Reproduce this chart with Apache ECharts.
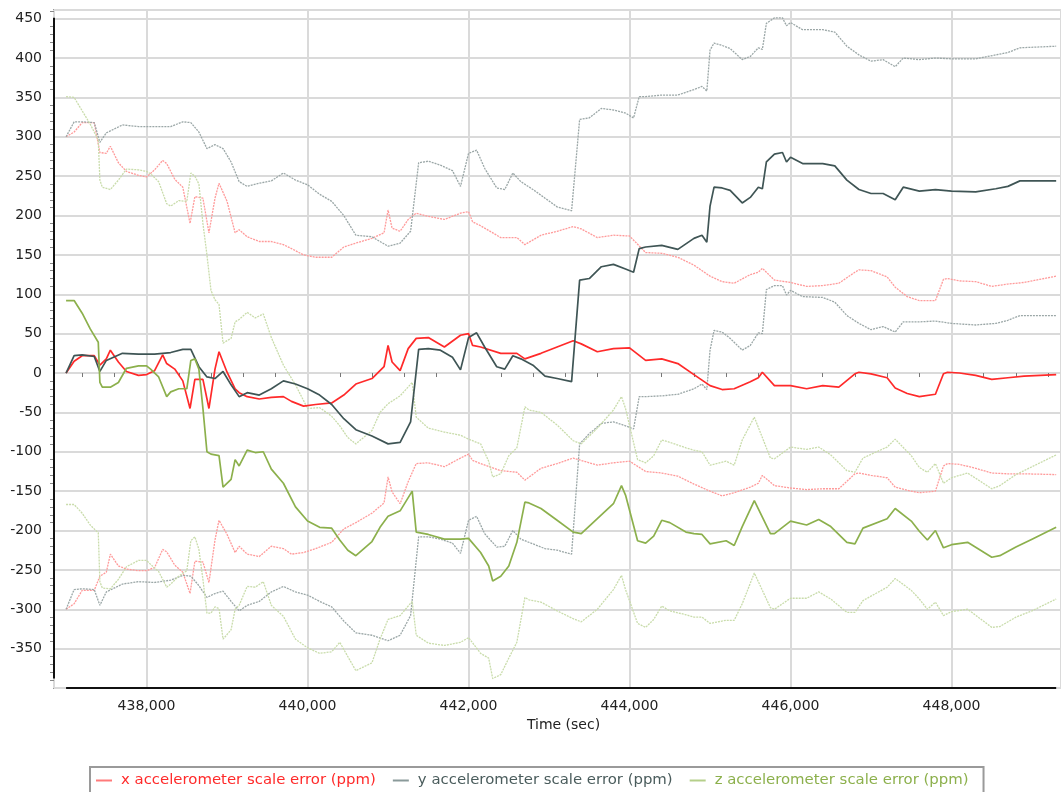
<!DOCTYPE html>
<html>
<head>
<meta charset="utf-8">
<title>Accelerometer scale error</title>
<script src="https://cdn.jsdelivr.net/npm/echarts@6/dist/echarts.min.js"></script>
<style>
  html, body { margin: 0; padding: 0; background: #fff; }
  #chart { width: 1061px; height: 792px; }
</style>
</head>
<body>
<div id="chart"></div>
<script>
// ---- x accelerometer: time (sec), estimate and the two bound curves (ppm)
const tX = [437000,437100,437200,437350,437420,437500,437550,437650,437750,437900,
  438000,438100,438200,438250,438350,438450,438540,438600,438700,438775,
  438850,438900,439000,439100,439150,439250,439400,439550,439700,439800,
  439950,440100,440300,440450,440600,440800,440950,441000,441050,441150,
  441250,441350,441500,441700,441900,442000,442050,442150,442400,442600,
  442700,442900,443100,443300,443400,443600,443800,444000,444200,444400,
  444600,444800,445000,445150,445300,445500,445600,445650,445800,446000,
  446200,446400,446600,446800,446850,447000,447200,447300,447450,447600,
  447800,447900,447950,448100,448300,448500,448700,448900,449300];
const xMain = [0,15,22,22,10,18,29,14,2,-3,
  -2,3,23,12,5,-10,-45,-8,-8,-45,
  5,27,1,-20,-25,-30,-33,-31,-30,-36,
  -42,-40,-38,-28,-14,-7,8,35,14,3,
  31,44,45,33,48,50,35,33,25,25,
  18,25,33,41,37,27,31,32,16,18,
  12,-2,-16,-21,-20,-11,-6,1,-16,-16,
  -20,-16,-18,-1,1,-1,-6,-19,-26,-30,
  -27,-1,1,0,-3,-8,-6,-4,-2];
const xUp = [300,306,318,318,280,279,288,267,256,251,
  249,258,270,266,246,236,190,224,222,178,
  222,241,218,178,182,173,167,167,163,158,
  150,147,147,160,165,171,178,207,184,180,
  195,203,199,195,203,205,192,187,172,172,
  163,175,180,186,183,172,175,174,153,152,
  147,137,123,116,114,125,128,133,118,115,
  110,111,114,128,131,130,122,109,97,92,
  92,119,120,117,116,110,113,115,123];
const xLow = [-300,-293,-276,-276,-258,-253,-230,-245,-249,-251,
  -251,-247,-224,-227,-244,-253,-280,-239,-240,-266,
  -212,-187,-205,-228,-220,-230,-233,-220,-223,-230,
  -228,-223,-215,-198,-190,-178,-165,-132,-151,-166,
  -138,-115,-114,-119,-108,-103,-111,-115,-124,-126,
  -136,-121,-115,-108,-111,-117,-114,-112,-125,-127,
  -131,-141,-150,-156,-152,-145,-140,-130,-143,-146,
  -148,-147,-147,-128,-127,-130,-133,-145,-149,-152,
  -150,-118,-115,-116,-121,-127,-128,-128,-129];

// ---- y accelerometer
const tY = [437000,437100,437200,437350,437420,437500,437700,437900,438100,438300,
  438450,438550,438650,438750,438850,438950,439050,439150,439250,439400,
  439550,439700,439850,440000,440150,440300,440450,440600,440800,441000,
  441150,441280,441380,441500,441650,441800,441900,442000,442100,442200,
  442350,442450,442550,442650,442800,442950,443100,443280,443380,443500,
  443650,443800,443950,444050,444120,444200,444400,444600,444800,444900,
  444960,445000,445050,445150,445250,445400,445500,445600,445650,445700,
  445800,445900,445950,446000,446150,446400,446550,446700,446850,447000,
  447150,447300,447400,447600,447800,448000,448300,448550,448700,448850,
  449300];
const yMain = [0,22,23,21,2,16,25,24,24,26,
  30,30,8,-5,-7,2,-15,-30,-25,-28,
  -20,-10,-14,-20,-28,-40,-58,-72,-80,-90,
  -88,-62,30,31,29,20,4,45,51,33,
  8,5,22,18,10,-4,-7,-11,118,120,
  135,138,132,128,158,160,162,157,171,175,
  166,212,236,235,232,216,223,236,234,268,
  278,280,268,274,266,266,263,245,233,228,
  228,220,236,231,233,231,230,234,237,244,
  244];
const yUp = [300,319,319,318,293,305,315,313,313,313,
  319,318,306,285,290,285,268,243,237,241,
  244,254,245,239,227,218,200,175,173,161,
  165,180,267,269,264,257,237,279,283,260,
  235,233,254,243,233,222,211,206,322,324,
  336,334,330,324,351,351,353,353,360,364,
  358,410,419,416,412,398,402,413,411,444,
  451,451,441,445,436,436,433,415,404,396,
  398,389,400,398,400,399,399,404,407,413,
  415];
const yLow = [-300,-275,-274,-275,-295,-278,-268,-265,-266,-263,
  -257,-258,-270,-285,-280,-277,-290,-302,-295,-290,
  -278,-271,-278,-282,-290,-297,-315,-330,-333,-340,
  -333,-308,-208,-208,-211,-216,-229,-187,-182,-204,
  -221,-220,-200,-211,-217,-223,-225,-230,-90,-77,
  -64,-62,-67,-71,-30,-30,-29,-27,-20,-14,
  -21,29,54,52,44,29,35,51,50,106,
  111,111,99,105,97,96,90,73,63,55,
  59,52,65,65,66,63,61,63,67,73,
  73];

// ---- z accelerometer
const tZ = [437000,437100,437200,437300,437400,437420,437450,437550,437650,437750,
  437900,438000,438050,438150,438250,438300,438400,438500,438550,438600,
  438650,438700,438750,438800,438850,438900,438950,439050,439100,439150,
  439250,439350,439450,439550,439700,439850,440000,440150,440300,440400,
  440500,440600,440800,440900,441000,441150,441300,441350,441500,441700,
  441900,442000,442150,442250,442300,442400,442500,442600,442700,442750,
  442900,443100,443300,443400,443600,443800,443900,443950,444100,444200,
  444300,444400,444500,444700,444800,444900,445000,445200,445300,445400,
  445550,445750,445800,446000,446200,446350,446500,446700,446800,446900,
  447200,447300,447500,447600,447700,447800,447900,448000,448200,448500,
  448600,448800,449000,449300];
const zMain = [92,92,76,56,39,-12,-18,-18,-12,6,
  9,9,5,-5,-30,-24,-20,-20,16,18,
  5,-45,-100,-103,-104,-105,-145,-135,-110,-118,
  -98,-101,-100,-122,-140,-170,-188,-196,-197,-212,
  -225,-232,-214,-196,-182,-175,-150,-202,-205,-211,
  -211,-210,-228,-245,-264,-258,-245,-215,-164,-165,
  -172,-187,-202,-204,-185,-166,-143,-155,-213,-216,
  -207,-187,-190,-202,-204,-205,-217,-213,-219,-195,
  -162,-204,-204,-188,-193,-186,-195,-215,-217,-197,
  -185,-172,-188,-201,-212,-200,-222,-218,-215,-234,
  -232,-221,-211,-196];
const zUp = [351,350,333,316,296,245,236,233,245,259,
  258,256,253,243,215,212,219,218,254,250,
  240,190,150,105,93,87,38,44,65,68,
  77,70,75,45,10,-15,-45,-44,-55,-67,
  -82,-90,-73,-50,-39,-29,-12,-56,-70,-75,
  -79,-84,-90,-112,-132,-128,-105,-95,-43,-47,
  -50,-66,-86,-90,-70,-47,-30,-45,-110,-114,
  -105,-85,-88,-95,-98,-100,-117,-112,-117,-85,
  -56,-108,-109,-94,-97,-94,-104,-124,-126,-108,
  -94,-84,-105,-120,-126,-115,-140,-133,-127,-147,
  -143,-129,-119,-104];
const zLow = [-167,-167,-178,-193,-203,-265,-273,-274,-262,-246,
  -238,-238,-243,-252,-272,-268,-258,-251,-213,-208,
  -224,-262,-305,-305,-297,-299,-338,-326,-300,-295,
  -271,-272,-265,-295,-309,-338,-349,-356,-354,-342,
  -360,-378,-368,-338,-313,-308,-290,-333,-343,-346,
  -342,-336,-356,-362,-388,-383,-362,-342,-285,-288,
  -291,-302,-312,-316,-300,-275,-257,-275,-318,-323,
  -313,-296,-302,-307,-310,-310,-318,-314,-314,-293,
  -254,-298,-300,-286,-286,-278,-287,-304,-304,-289,
  -272,-261,-276,-287,-300,-291,-308,-303,-300,-323,
  -322,-310,-302,-287];

const seriesNames = [
  'x accelerometer scale error (ppm)',
  'y accelerometer scale error (ppm)',
  'z accelerometer scale error (ppm)'
];
const axisTitle = 'Time (sec)';

// ---- look
const FONT = '"DejaVu Sans", Verdana, sans-serif';
const X_COLOR = '#ff2a2a', X_BAND = '#ff9a9a';
const Y_COLOR = '#3f5555', Y_BAND = '#9ba7a7';
const Z_COLOR = '#8cb04c', Z_BAND = '#c9dcab';
const X_MIN = 436850, X_MAX = 449360;
const Y_MIN = -400, Y_MAX = 461;

function pairs(t, v) { return t.map((x, i) => [x, v[i]]); }
function thousands(v) { return String(Math.round(v)).replace(/\B(?=(\d{3})+(?!\d))/g, ','); }

// the dark axis spines only span the recorded data
const allT = tX.concat(tY, tZ);
const allV = [].concat(xMain, xUp, xLow, yMain, yUp, yLow, zMain, zUp, zLow);
const tFirst = Math.min.apply(null, allT), tLast = Math.max.apply(null, allT);
const vLowest = Math.min.apply(null, allV), vHighest = Math.max.apply(null, allV);

function band(name, t, v, color) {
  return {
    name: name, type: 'line', data: pairs(t, v), showSymbol: false, symbol: 'none',
    silent: true, z: 2,
    lineStyle: { color: color, width: 1.3, type: [2, 1] },
    itemStyle: { color: color }
  };
}
function estimate(name, t, v, color) {
  return {
    name: name, type: 'line', data: pairs(t, v), showSymbol: false, symbol: 'none',
    silent: true, z: 3,
    lineStyle: { color: color, width: 1.7 },
    itemStyle: { color: color }
  };
}

const xSeries = estimate(seriesNames[0], tX, xMain, X_COLOR);
xSeries.clip = false;
xSeries.markLine = {
  silent: true, symbol: ['none', 'none'], label: { show: false },
  emphasis: { disabled: true },
  lineStyle: { color: '#111', width: 2, type: 'solid' },
  data: [
    [{ coord: [tFirst, Y_MIN] }, { coord: [tLast, Y_MIN] }],
    [{ coord: [X_MIN, vLowest] }, { coord: [X_MIN, vHighest] }]
  ]
};

const chart = echarts.init(document.getElementById('chart'), null, { renderer: 'canvas' });
chart.setOption({
  animation: false,
  backgroundColor: '#ffffff',
  textStyle: { fontFamily: FONT },
  grid: {
    left: 54, right: 0, top: 10, bottom: 104,
    show: true, borderColor: '#9a9a9a', borderWidth: 2, backgroundColor: '#ffffff'
  },
  xAxis: {
    type: 'value', min: X_MIN, max: X_MAX, splitNumber: 6,
    name: axisTitle, nameLocation: 'middle', nameGap: 30,
    nameTextStyle: { fontFamily: FONT, fontSize: 14, color: '#222', padding: [0, 0, 0, 12] },
    axisLine: { show: false },
    axisTick: { show: false },
    minorTick: { show: true, splitNumber: 5, length: 4, lineStyle: { color: '#777', width: 1 } },
    axisLabel: {
      margin: 11, fontFamily: FONT, fontSize: 14, color: '#222',
      showMinLabel: false, showMaxLabel: false, formatter: thousands
    },
    splitLine: { show: true, lineStyle: { color: '#dadada', width: 2 } }
  },
  yAxis: {
    type: 'value', min: Y_MIN, max: Y_MAX, interval: 50,
    axisLine: { show: false },
    axisTick: { show: false },
    minorTick: { show: true, splitNumber: 5, length: 4, lineStyle: { color: '#888', width: 1 } },
    axisLabel: {
      margin: 12, fontFamily: FONT, fontSize: 14, color: '#222',
      showMinLabel: false, showMaxLabel: false
    },
    splitLine: { show: true, lineStyle: { color: '#dadada', width: 2 } }
  },
  legend: {
    left: 90, top: 767, orient: 'horizontal',
    selectedMode: false,
    icon: 'rect', itemWidth: 16, itemHeight: 2, itemGap: 17,
    padding: [6, 15, 10, 6],
    borderColor: '#9a9a9a', borderWidth: 2, backgroundColor: '#ffffff',
    textStyle: { fontFamily: FONT, fontSize: 14.9, padding: [0, 0, 0, 4] },
    data: [
      { name: seriesNames[0], textStyle: { color: '#ff2a2a' }, itemStyle: { color: '#ff7a7a' } },
      { name: seriesNames[1], textStyle: { color: '#4a5c5c' }, itemStyle: { color: '#8a9a9a' } },
      { name: seriesNames[2], textStyle: { color: '#8cb04c' }, itemStyle: { color: '#b5cf8a' } }
    ]
  },
  series: [
    band('x upper bound', tX, xUp, X_BAND),
    band('x lower bound', tX, xLow, X_BAND),
    band('y upper bound', tY, yUp, Y_BAND),
    band('y lower bound', tY, yLow, Y_BAND),
    band('z upper bound', tZ, zUp, Z_BAND),
    band('z lower bound', tZ, zLow, Z_BAND),
    xSeries,
    estimate(seriesNames[1], tY, yMain, Y_COLOR),
    estimate(seriesNames[2], tZ, zMain, Z_COLOR)
  ]
});
</script>
</body>
</html>
